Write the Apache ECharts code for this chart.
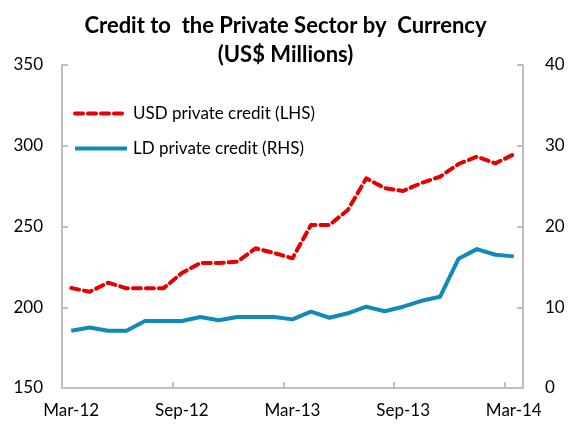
<!DOCTYPE html>
<html>
<head>
<meta charset="utf-8">
<script src="https://cdn.jsdelivr.net/npm/echarts@6/dist/echarts.min.js"></script>
<style>html,body{margin:0;padding:0;background:#fff;}#c{width:571px;height:424px;}</style>
</head>
<body>
<div id="c"></div>
<script>
var categories = ['Mar-12','Apr-12','May-12','Jun-12','Jul-12','Aug-12','Sep-12','Oct-12','Nov-12','Dec-12','Jan-13','Feb-13','Mar-13','Apr-13','May-13','Jun-13','Jul-13','Aug-13','Sep-13','Oct-13','Nov-13','Dec-13','Jan-14','Feb-14','Mar-14'];
var usdCredit = [211.9, 209.6, 215.2, 211.7, 211.7, 211.7, 221.2, 227.4, 227.4, 228.2, 236.5, 233.6, 230.3, 250.9, 250.9, 260.2, 279.8, 273.8, 272.0, 277.0, 280.8, 288.7, 293.2, 289.1, 294.7];
var ldCredit = [7.1, 7.5, 7.1, 7.1, 8.3, 8.3, 8.3, 8.8, 8.4, 8.8, 8.8, 8.8, 8.5, 9.45, 8.7, 9.25, 10.07, 9.5, 10.07, 10.8, 11.3, 16.0, 17.2, 16.5, 16.3];
var leftTicks = {min: 150, max: 350, interval: 50};
var rightTicks = {min: 0, max: 40, interval: 10};

var FONT = 'Lato';
var axisColor = '#bfbfbf';
var chart = echarts.init(document.getElementById('c'), null, {renderer: 'canvas'});
chart.setOption({
  animation: false,
  backgroundColor: '#ffffff',
  title: {
    text: 'Credit to  the Private Sector by  Currency\n(US$ Millions)',
    left: 'center',
    top: 6,
    textStyle: {fontFamily: FONT, fontWeight: 'bold', fontSize: 22, color: '#000', lineHeight: 29}
  },
  legend: {
    orient: 'vertical',
    left: 68,
    top: 100,
    itemWidth: 52,
    itemHeight: 17,
    itemGap: 18,
    itemStyle: {opacity: 0},
    lineStyle: {width: 4},
    textStyle: {fontFamily: FONT, fontSize: 17, color: '#000', padding: [0,0,0,1]},
    data: ['USD private credit (LHS)', 'LD private credit (RHS)']
  },
  grid: {left: 62, right: 48, top: 65, bottom: 36},
  xAxis: {
    type: 'category',
    data: categories,
    boundaryGap: true,
    axisLine: {show: true, lineStyle: {color: axisColor, width: 2}},
    axisTick: {show: true, inside: true, length: 6, interval: 5, lineStyle: {color: axisColor, width: 2}},
    axisLabel: {interval: 5, fontFamily: FONT, fontSize: 17, color: '#000', margin: 14},
    splitLine: {show: false}
  },
  yAxis: [{
    type: 'value',
    position: 'left',
    min: leftTicks.min, max: leftTicks.max, interval: leftTicks.interval,
    axisLine: {show: true, lineStyle: {color: axisColor, width: 2}},
    axisTick: {show: true, inside: true, length: 6, lineStyle: {color: axisColor, width: 2}},
    axisLabel: {fontFamily: FONT, fontSize: 17, color: '#000', margin: 19},
    splitLine: {show: false}
  }, {
    type: 'value',
    position: 'right',
    min: rightTicks.min, max: rightTicks.max, interval: rightTicks.interval,
    axisLine: {show: true, lineStyle: {color: axisColor, width: 2}},
    axisTick: {show: true, inside: true, length: 6, lineStyle: {color: axisColor, width: 2}},
    axisLabel: {fontFamily: FONT, fontSize: 17, color: '#000', margin: 22},
    splitLine: {show: false}
  }],
  series: [{
    name: 'USD private credit (LHS)',
    type: 'line',
    yAxisIndex: 0,
    data: usdCredit,
    symbol: 'none',
    itemStyle: {color: '#e60000'},
    lineStyle: {color: '#e60000', width: 4, type: [8, 5], cap: 'round', join: 'round'}
  }, {
    name: 'LD private credit (RHS)',
    type: 'line',
    yAxisIndex: 1,
    data: ldCredit,
    symbol: 'none',
    itemStyle: {color: '#118ab7'},
    lineStyle: {color: '#118ab7', width: 4, join: 'round'}
  }]
});
</script>
</body>
</html>
